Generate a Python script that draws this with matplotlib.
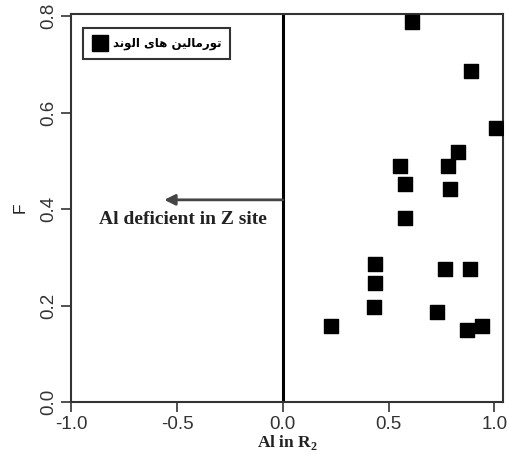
import matplotlib
matplotlib.use("Agg")
import matplotlib.pyplot as plt
from matplotlib.lines import Line2D

al_r2 = [0.612, 0.887, 1.005, 0.830, 0.780, 0.553, 0.577, 0.789, 0.577,
         0.437, 0.767, 0.884, 0.437, 0.432, 0.730, 0.230, 0.871, 0.939]
f_val = [0.788, 0.686, 0.568, 0.519, 0.490, 0.490, 0.452, 0.441, 0.382,
         0.285, 0.276, 0.276, 0.246, 0.196, 0.187, 0.158, 0.149, 0.158]
x_ticks = [-1.0, -0.5, 0.0, 0.5, 1.0]
y_ticks = [0.0, 0.2, 0.4, 0.6, 0.8]

# Persian legend label, pre-shaped (presentation forms) in visual order
legend_logical = "\uFE97\uFEEE\uFEAD\uFEE3\uFE8E\uFEDF\uFEF4\uFEE6 \uFEEB\uFE8E\uFEEF \uFE8D\uFEDF\uFEEE\uFEE7\uFEAA"
legend_label = legend_logical[::-1]

fig = plt.figure(figsize=(5.08, 4.54), dpi=100)
ax = fig.add_axes([0.140, 0.1145, 0.850, 0.8545])

ax.scatter(al_r2, f_val, marker='s', s=110, c='black', zorder=3, clip_on=True)
ax.axvline(0, color='black', lw=2.2, zorder=2)

ax.annotate("", xy=(-0.56, 0.419), xytext=(0.0, 0.419),
            arrowprops=dict(arrowstyle='-|>', color='#444444', lw=2,
                            mutation_scale=16, shrinkA=0, shrinkB=0))
ax.text(-0.47, 0.379, "Al deficient in Z site", family='Liberation Serif',
        fontweight='bold', fontsize=14, ha='center', va='center', color='#222222')

ax.set_xlim(-1.0, 1.04)
ax.set_ylim(0, 0.804)
ax.set_xticks(x_ticks)
ax.set_yticks(y_ticks)
ax.set_xticklabels([f"{v:.1f}" for v in x_ticks], family='Liberation Sans', fontsize=13.5, color='#333333')
ax.set_yticklabels([f"{v:.1f}" for v in y_ticks], family='Liberation Sans', fontsize=13.5,
                   rotation=90, va='center', color='#333333')
ax.tick_params(length=7, width=1.2, color='#333333', pad=3)
for s in ax.spines.values():
    s.set_linewidth(1.5)
    s.set_color('#333333')

ax.set_xlabel("Al in R$_{\\mathregular{2}}$", family='Liberation Serif', fontweight='bold',
              fontsize=12.5, labelpad=0, color='#222222')
ax.set_ylabel("F", family='Liberation Sans', fontsize=12.5, labelpad=9, color='#222222')

handle = Line2D([], [], marker='s', color='black', linestyle='none', markersize=11)
leg = ax.legend([handle], [legend_label], loc='upper left', bbox_to_anchor=(0.028, 0.964),
                borderaxespad=0, frameon=True, fancybox=False, handlelength=1.3,
                handletextpad=0.45, borderpad=0.75,
                prop={'family': 'DejaVu Sans', 'weight': 'bold', 'size': 8.5})
leg.get_frame().set_edgecolor('black')
leg.get_frame().set_linewidth(1.5)

fig.savefig("out.png", dpi=100)
